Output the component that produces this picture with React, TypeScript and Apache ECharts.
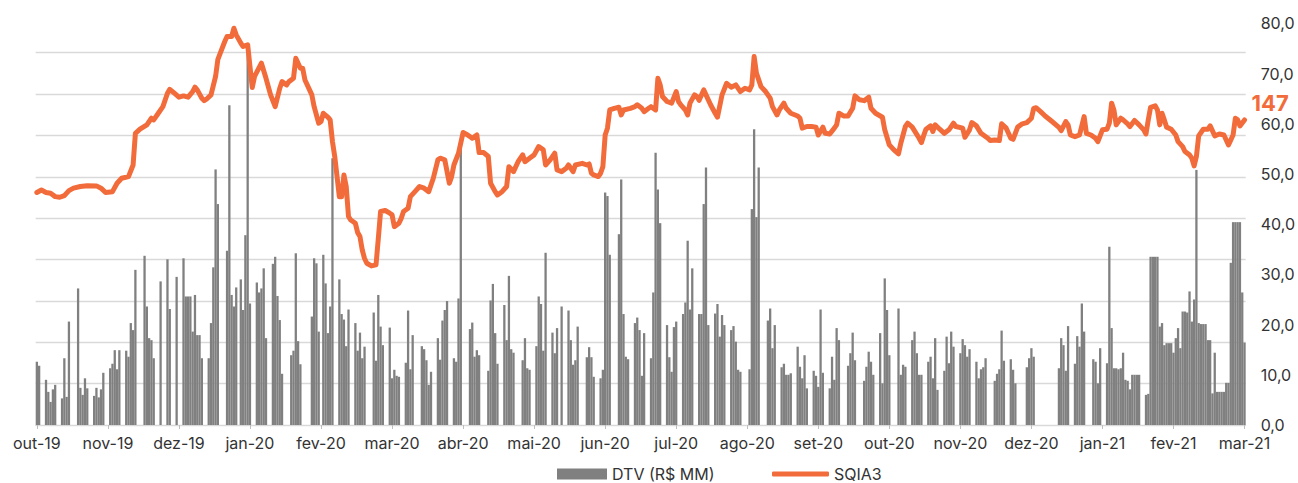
import React, { useEffect, useRef } from "react";
import * as echarts from "echarts";

// Tick labels, one every 31 categories
const monthLabels = [
  "out-19", "nov-19", "dez-19", "jan-20", "fev-20", "mar-20", "abr-20", "mai-20", "jun-20",
  "jul-20", "ago-20", "set-20", "out-20", "nov-20", "dez-20", "jan-21", "fev-21", "mar-21",
];
const LABEL_STEP = 31;

// DTV (R$ MM), one value per day (null = no trading)
const dtv: (number | null)[] = [
  12.6, 11.8, null, null, 9.0, 6.6, 4.6, 7.1, 8.0, null,
  null, 5.3, 13.3, 5.6, 20.6, null, null, null, 27.2, 7.4,
  6.0, 9.3, 7.3, null, null, 5.8, 7.4, 5.5, 7.1, 10.4,
  null, null, 11.3, 12.2, 14.9, 11.1, 14.9, null, null, 14.8,
  13.6, 20.3, 18.9, 30.9, null, null, null, 33.7, 23.6, 17.3,
  16.9, 13.3, null, null, 28.6, null, null, 33.0, 23.1, null,
  null, 29.5, null, null, 33.2, 25.6, 25.6, 25.6, 18.6, 25.9,
  17.9, 17.9, 13.3, null, null, 13.3, 20.3, 31.4, 50.9, 44.0,
  null, null, null, 34.7, 63.7, 25.9, 23.6, 27.4, null, 29.0,
  22.9, 37.8, 75.7, 24.2, null, null, 28.4, 26.4, 27.2, 31.2,
  17.3, null, null, 32.1, 33.5, 25.7, 20.9, 10.2, null, null,
  null, 13.9, 14.8, 34.2, 16.7, 12.1, null, null, null, null,
  21.6, 33.2, 32.2, 18.6, null, 33.9, 28.2, 18.3, 23.6, 53.1,
  null, null, 29.0, 22.1, 21.0, 15.7, 23.0, null, null, 20.3,
  14.8, 18.4, 13.3, 15.6, null, null, null, 22.4, 12.8, 25.9,
  19.6, 15.9, null, null, 19.4, 9.3, 11.0, 9.8, 9.6, null,
  null, 12.4, 22.8, 11.1, 17.9, null, null, null, 15.7, 15.1,
  12.9, 8.0, 10.6, null, null, 17.3, 13.0, 20.8, 22.9, 24.7,
  null, null, 13.3, 12.6, 25.2, 55.8, null, null, null, 19.1,
  20.4, 13.6, 14.9, 13.9, null, null, null, 10.8, 24.8, 28.1,
  18.3, 12.2, null, null, 23.9, 16.9, 29.7, 15.1, 14.4, null,
  null, null, 12.9, 17.3, 11.3, 11.0, null, null, 15.7, 25.6,
  24.1, 14.8, 34.3, null, null, 18.4, 14.3, 19.3, null, 23.6,
  null, null, 22.8, 16.9, 12.0, 12.9, 19.6, null, null, null,
  13.5, 15.5, 13.5, 9.6, null, null, 9.3, 11.0, 46.3, 45.6,
  33.9, null, null, null, 38.0, 48.9, 22.1, 13.6, 13.1, null,
  null, 20.3, 21.4, 18.9, 9.8, 18.3, null, null, 13.3, 26.4,
  54.2, 46.9, 40.2, null, null, 19.9, 13.5, 10.6, 19.5, 20.6,
  null, null, 22.1, 24.4, 36.7, 23.0, 31.2, null, null, 22.1,
  22.1, 44.0, 51.3, 19.9, null, null, 22.2, 24.1, 17.6, 21.9,
  19.9, null, null, 18.9, 19.7, 16.6, 11.0, 10.6, null, null,
  null, 11.1, 43.0, 58.9, 41.4, 51.3, null, null, null, 20.8,
  23.2, 15.3, 19.9, null, null, 11.5, 12.2, 10.0, 10.0, 10.3,
  null, null, 15.6, 11.6, 9.3, 13.9, 7.3, null, null, 10.8,
  9.8, 7.6, 23.0, 10.4, null, null, 7.3, 13.6, 9.0, 19.3,
  16.9, null, null, null, 11.8, 14.3, 18.4, 12.9, null, null,
  null, 8.8, 11.6, 14.6, 12.6, 10.0, null, null, 18.3, 8.3,
  29.2, 22.9, 13.9, null, null, null, 23.2, 10.0, 12.0, 11.6,
  null, null, 16.9, 18.6, 14.3, 10.0, 10.0, null, null, 12.6,
  13.6, 9.3, 17.3, 7.0, null, null, 10.8, 17.6, 12.3, 18.6,
  15.6, null, null, 14.3, 17.1, 15.9, 13.6, 15.1, null, null,
  12.6, 9.3, 11.1, 11.5, 13.3, null, null, null, 8.8, 10.2,
  11.1, 18.8, 12.8, null, null, 13.1, 11.0, 8.3, null, null,
  null, null, 11.5, 13.3, 15.3, 13.6, null, null, null, null,
  null, null, null, null, null, null, 11.3, 17.3, 15.9, 10.8,
  19.7, null, null, 12.2, 17.7, 15.6, 24.2, 18.6, null, null,
  null, 13.1, 12.6, 8.3, 15.3, null, null, 12.3, 35.5, 19.3,
  11.3, 11.3, 11.1, 11.3, 14.4, 9.0, 8.8, 7.1, 10.0, 10.0,
  10.0, 10.0, null, null, 6.0, 6.2, 33.5, 33.5, 33.5, 33.5,
  19.6, 20.3, 15.9, 16.3, 16.3, 16.3, 14.4, 17.3, 19.3, 15.3,
  22.6, 22.6, 22.4, 26.6, 20.6, 25.0, 50.8, 20.3, 20.1, 20.1,
  20.1, 16.9, 16.9, 6.3, 14.4, 6.6, 6.6, 6.6, 6.6, 8.4,
  8.4, 32.3, 40.4, 40.4, 40.4, 40.4, 26.4, 16.4,
];

// SQIA3 price, [day index, value]
const sqia3: [number, number][] = [
  [0, 112.4], [2, 113.6], [4, 112.4], [6, 112.0], [8, 110.4], [10, 110.1], [12, 110.9], [14, 113.3],
  [16, 114.5], [19, 115.3], [22, 115.7], [26, 115.6], [28, 114.5], [30, 112.4], [33, 112.8], [35, 116.9],
  [37, 119.3], [40, 120.1], [42, 125.7], [43, 141.0], [45, 143.0], [48, 145.1], [50, 148.3], [51, 147.5],
  [53, 150.7], [55, 153.9], [57, 160.4], [58, 162.3], [60, 160.4], [62, 158.5], [64, 159.1], [66, 158.5],
  [68, 161.2], [69, 163.3], [70, 162.0], [72, 158.0], [73, 156.8], [74, 157.5], [76, 159.6], [78, 168.5],
  [79, 176.8], [80, 179.7], [82, 185.4], [83, 187.8], [85, 187.8], [86, 191.8], [87, 188.6], [89, 184.6],
  [90, 183.0], [92, 183.8], [93, 173.3], [94, 163.2], [95, 168.5], [98, 174.9], [100, 167.6], [102, 159.6],
  [104, 153.9], [106, 162.8], [107, 166.0], [109, 164.4], [110, 166.0], [112, 167.6], [113, 177.3], [115, 172.5],
  [116, 172.5], [117, 166.8], [120, 159.6], [121, 153.9], [123, 145.9], [124, 146.7], [125, 150.7], [127, 148.8],
  [128, 147.5], [129, 137.0], [130, 129.8], [131, 120.1], [132, 110.4], [133, 110.4], [134, 120.9], [135, 115.3],
  [136, 100.8], [137, 99.1], [139, 97.5], [140, 93.0], [141, 91.1], [142, 84.6], [143, 80.5], [144, 78.2],
  [146, 76.9], [148, 77.4], [149, 90.0], [150, 103.2], [152, 103.7], [154, 102.4], [155, 101.6], [156, 95.9],
  [158, 97.5], [159, 99.9], [160, 103.2], [162, 104.8], [163, 110.4], [165, 112.8], [167, 115.3], [169, 114.5],
  [171, 112.8], [173, 119.3], [175, 128.2], [176, 129.0], [178, 128.2], [180, 116.9], [181, 120.1], [182, 125.7],
  [184, 131.4], [186, 141.4], [188, 140.2], [190, 138.6], [192, 140.2], [193, 131.7], [195, 131.7], [197, 129.8],
  [198, 116.9], [200, 112.8], [201, 111.2], [203, 112.8], [205, 115.3], [206, 124.9], [208, 122.5], [210, 127.3],
  [212, 130.6], [213, 127.3], [215, 129.0], [217, 130.6], [219, 134.6], [221, 133.0], [222, 125.7], [224, 128.2],
  [226, 131.4], [227, 123.3], [229, 122.5], [231, 124.1], [232, 125.7], [234, 122.5], [235, 125.7], [238, 126.5],
  [240, 125.7], [241, 126.2], [242, 121.7], [243, 120.9], [245, 120.1], [246, 121.7], [247, 124.9], [248, 140.2],
  [249, 143.5], [250, 152.3], [252, 153.1], [254, 153.6], [255, 149.9], [256, 152.3], [259, 153.1], [261, 153.9],
  [262, 154.8], [264, 153.1], [265, 151.5], [267, 153.1], [268, 153.9], [270, 152.3], [271, 167.6], [272, 164.4],
  [273, 158.8], [275, 156.4], [277, 155.6], [279, 161.2], [280, 156.4], [281, 154.8], [283, 152.3], [284, 149.9],
  [285, 155.6], [287, 159.6], [288, 158.8], [289, 157.0], [291, 162.0], [292, 159.6], [294, 154.8], [296, 150.7],
  [297, 148.8], [299, 159.6], [301, 165.2], [303, 163.3], [305, 164.4], [307, 161.2], [309, 162.8], [311, 162.0],
  [312, 164.4], [313, 178.1], [314, 170.1], [316, 163.6], [318, 161.2], [320, 158.0], [321, 153.9], [323, 149.9],
  [324, 152.3], [326, 155.6], [327, 153.1], [329, 150.7], [332, 149.4], [333, 148.3], [334, 143.5], [336, 144.3],
  [338, 144.3], [340, 144.0], [341, 140.2], [343, 144.0], [344, 141.0], [346, 140.7], [348, 143.5], [349, 145.1],
  [350, 150.7], [352, 149.4], [354, 149.4], [356, 153.1], [357, 159.1], [359, 157.2], [361, 156.8], [363, 158.5],
  [364, 153.1], [366, 150.7], [369, 148.8], [370, 142.7], [372, 135.4], [374, 133.0], [376, 131.1], [377, 136.2],
  [379, 144.3], [380, 145.9], [382, 144.0], [385, 138.6], [386, 136.5], [387, 140.0], [388, 143.0], [390, 144.6],
  [391, 141.9], [392, 145.1], [394, 143.0], [396, 141.0], [398, 142.7], [400, 145.9], [401, 144.3], [404, 143.5],
  [405, 139.1], [407, 142.7], [408, 146.2], [410, 144.6], [412, 141.0], [415, 138.6], [416, 137.5], [418, 137.8],
  [420, 137.5], [421, 145.6], [423, 143.5], [425, 138.6], [426, 138.1], [428, 144.0], [430, 145.6], [432, 146.2],
  [434, 148.3], [435, 153.1], [436, 153.4], [438, 151.5], [440, 149.4], [443, 146.7], [446, 143.9], [447, 142.3],
  [449, 146.7], [450, 145.1], [451, 140.2], [453, 139.4], [455, 140.2], [457, 149.1], [458, 141.0], [460, 140.2],
  [462, 138.6], [463, 137.0], [465, 142.7], [467, 143.0], [468, 145.9], [469, 155.6], [470, 152.3], [471, 145.1],
  [473, 148.3], [474, 147.5], [476, 145.6], [477, 144.3], [479, 147.2], [481, 145.1], [483, 142.7], [484, 140.7],
  [485, 147.5], [486, 153.6], [488, 154.3], [489, 152.3], [490, 145.1], [491, 150.7], [492, 147.5], [493, 144.0],
  [495, 143.0], [497, 140.2], [498, 137.0], [500, 134.6], [501, 132.2], [503, 130.6], [504, 129.0], [505, 125.3],
  [506, 129.8], [507, 139.8], [509, 143.0], [511, 143.0], [512, 144.6], [514, 139.8], [516, 140.7], [518, 140.2],
  [520, 135.4], [522, 140.2], [523, 148.3], [524, 147.5], [525, 144.6], [527, 147.5],
];

const categories = dtv.map((_, i) => String(i));

const FONT = "Inter, 'Noto Sans', sans-serif";
const ORANGE = "#F26B3A";
const GRAY = "#808080";

export default function App() {
  const ref = useRef<HTMLDivElement>(null);

  useEffect(() => {
    if (!ref.current) return;
    const chart = echarts.init(ref.current, undefined, { renderer: "svg" });
    const legendText = { fontSize: 16, color: "#333", fontFamily: FONT };
    chart.setOption({
      animation: false,
      textStyle: { fontFamily: FONT },
      grid: { left: 35.7, right: 50, top: 23.3, bottom: 58 },
      legend: [
        {
          left: 552,
          top: 461,
          itemWidth: 50,
          itemHeight: 11,
          textStyle: legendText,
          data: [{ name: "DTV (R$ MM)", icon: "rect" }],
        },
        {
          left: 767,
          top: 461,
          itemWidth: 57,
          itemHeight: 5,
          textStyle: legendText,
          data: [{ name: "SQIA3", icon: "roundRect" }],
        },
      ],
      xAxis: {
        type: "category",
        data: categories,
        boundaryGap: true,
        axisLine: { show: true, lineStyle: { color: "#d9d9d9", width: 1 } },
        axisTick: {
          show: true,
          interval: LABEL_STEP - 1,
          alignWithLabel: true,
          length: 4,
          lineStyle: { color: "#bfbfbf" },
        },
        axisLabel: {
          interval: LABEL_STEP - 1,
          margin: 10,
          fontSize: 16,
          color: "#333",
          fontFamily: FONT,
          formatter: (_v: string, idx: number) => monthLabels[Math.round(idx / LABEL_STEP)] ?? "",
        },
        splitLine: { show: false },
      },
      yAxis: [
        {
          type: "value",
          position: "left",
          min: 0,
          max: 194.2,
          interval: 20,
          axisLabel: { show: false },
          axisLine: { show: false },
          axisTick: { show: false },
          splitLine: {
            show: true,
            showMaxLine: false,
            lineStyle: { color: "#d9d9d9", width: 1.3 },
          },
        },
        {
          type: "value",
          position: "right",
          min: 0,
          max: 80,
          interval: 10,
          axisLine: { show: false },
          axisTick: { show: false },
          splitLine: { show: false },
          axisLabel: {
            margin: 15,
            fontSize: 16,
            color: "#333",
            fontFamily: FONT,
            formatter: (v: number) => v.toFixed(1).replace(".", ","),
          },
        },
      ],
      series: [
        {
          name: "DTV (R$ MM)",
          type: "bar",
          yAxisIndex: 1,
          data: dtv,
          barCategoryGap: "0%",
          itemStyle: { color: GRAY },
          z: 2,
        },
        {
          name: "SQIA3",
          type: "line",
          yAxisIndex: 0,
          data: sqia3,
          symbol: "none",
          smooth: false,
          lineStyle: { color: ORANGE, width: 5, cap: "round", join: "round" },
          itemStyle: { color: ORANGE },
          z: 3,
          endLabel: {
            show: true,
            distance: 7,
            offset: [0, -17],
            color: ORANGE,
            fontSize: 22,
            fontWeight: "bold",
            fontFamily: FONT,
            formatter: (p: any) => String(Math.floor(p.value[1])),
          },
        },
      ],
    });
    return () => chart.dispose();
  }, []);

  return (
    <div
      ref={ref}
      style={{ position: "fixed", left: 0, top: 0, width: 1298, height: 483, background: "#fff" }}
    />
  );
}
